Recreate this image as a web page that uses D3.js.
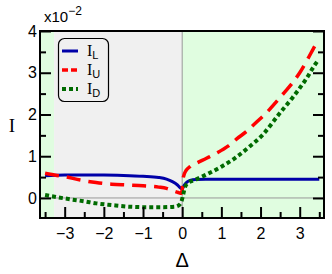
<!DOCTYPE html>
<html>
<head>
<meta charset="utf-8">
<script src="https://cdn.jsdelivr.net/npm/d3@7"></script>
<style>
  body { margin: 0; background: #fff; }
  text { font-family: "Liberation Sans", Arial, sans-serif; }
</style>
</head>
<body>
<script>
// curves, values in units of 1e-2
const deltaL = [-3.5, -3, -2, -1.5, -1, -0.6, -0.4, -0.25, -0.12, -0.03, 0, 0.05, 0.12, 0.2, 0.35, 0.6, 3.5];
const valL   = [0.53, 0.55, 0.55, 0.54, 0.52, 0.49, 0.45, 0.39, 0.31, 0.23, 0.22, 0.3, 0.38, 0.42, 0.445, 0.45, 0.45];

const deltaU = [-3.5, -3.2, -3, -2.6, -2.2, -1.8, -1.4, -1, -0.6, -0.4, -0.2, -0.1, -0.02, 0, 0.03, 0.1, 0.2, 0.36, 0.62, 0.87, 1.17, 1.4, 1.65, 1.9, 2.16, 2.4, 2.6, 2.8, 3.0, 3.2, 3.35, 3.48];
const valU   = [0.59, 0.54, 0.51, 0.43, 0.37, 0.33, 0.31, 0.29, 0.26, 0.23, 0.16, 0.13, 0.11, 0.2, 0.5, 0.66, 0.75, 0.83, 0.95, 1.07, 1.24, 1.42, 1.6, 1.82, 2.05, 2.3, 2.52, 2.74, 3.0, 3.32, 3.58, 3.78];

const deltaD = [-3.5, -3.2, -2.87, -2.5, -2.19, -1.8, -1.34, -1, -0.49, -0.2, -0.08, -0.02, 0.03, 0.07, 0.15, 0.32, 0.66, 1.0, 1.34, 1.68, 2.06, 2.49, 2.83, 3.17, 3.38, 3.47];
const valD   = [0.07, 0.02, -0.03, -0.08, -0.13, -0.17, -0.21, -0.22, -0.22, -0.21, -0.17, -0.09, 0.1, 0.25, 0.36, 0.43, 0.58, 0.75, 0.95, 1.2, 1.52, 2.03, 2.42, 2.86, 3.18, 3.3];

const xTicks = [-3, -2, -1, 0, 1, 2, 3];
const yTicks = [0, 1, 2, 3, 4];
const seriesNames = ["L", "U", "D"];

const width = 332, height = 274;
const margin = {top: 31, right: 8, bottom: 56, left: 40};

const svg = d3.select("body").append("svg")
    .attr("width", width)
    .attr("height", height);

const x = d3.scaleLinear()
    .domain([-3.63, 3.62])
    .range([margin.left, width - margin.right]);

const y = d3.scaleLinear()
    .domain([-0.48, 4])
    .range([height - margin.bottom, margin.top]);

const x0 = x.range()[0], x1 = x.range()[1];
const y0 = y.range()[0], y1 = y.range()[1];

// shaded regions
svg.append("rect").attr("x", x0).attr("y", y1)
    .attr("width", x(-3.27) - x0).attr("height", y0 - y1).attr("fill", "#e0fde0");
svg.append("rect").attr("x", x(-3.27)).attr("y", y1)
    .attr("width", x(0) - x(-3.27)).attr("height", y0 - y1).attr("fill", "#f0f0f0");
svg.append("rect").attr("x", x(0)).attr("y", y1)
    .attr("width", x1 - x(0)).attr("height", y0 - y1).attr("fill", "#e0fde0");

// zero lines
svg.append("line").attr("x1", x(0)).attr("x2", x(0)).attr("y1", y1).attr("y2", y0)
    .attr("stroke", "#999").attr("stroke-width", 1);
svg.append("line").attr("x1", x0).attr("x2", x1).attr("y1", y(0)).attr("y2", y(0))
    .attr("stroke", "#999").attr("stroke-width", 1);

// curves
const line = d3.line()
    .x(d => x(d[0]))
    .y(d => y(d[1]))
    .curve(d3.curveMonotoneX);

const styles = [
  {color: "#0000a8", width: 3, dash: null},
  {color: "#ff0000", width: 3.5, dash: "14,8"},
  {color: "#006b00", width: 4, dash: "4,3"}
];
const series = [d3.zip(deltaL, valL), d3.zip(deltaU, valU), d3.zip(deltaD, valD)];

series.forEach((s, i) => {
  svg.append("path")
      .datum(s)
      .attr("d", line)
      .attr("fill", "none")
      .attr("stroke", styles[i].color)
      .attr("stroke-width", styles[i].width)
      .attr("stroke-dasharray", styles[i].dash);
});

// axes (ticks inward)
const xMinor = d3.range(-3.5, 3.51, 0.5).filter(v => !xTicks.includes(v));
const yMinor = d3.range(-0.5, 4, 0.5).filter(v => !yTicks.includes(v) && v > -0.48);

svg.append("g")
    .attr("transform", `translate(0,${y0})`)
    .call(d3.axisBottom(x).tickValues(xTicks).tickSize(-11).tickFormat(d => d < 0 ? "\u2212" + (-d) : d).tickPadding(10))
    .call(g => g.select(".domain").remove());
svg.append("g")
    .attr("transform", `translate(0,${y0})`)
    .call(d3.axisBottom(x).tickValues(xMinor).tickSize(-6).tickFormat(""))
    .call(g => g.select(".domain").remove());

svg.append("g")
    .attr("transform", `translate(${x0},0)`)
    .call(d3.axisLeft(y).tickValues(yTicks).tickSize(-11).tickFormat(d3.format("d")).tickPadding(3))
    .call(g => g.select(".domain").remove());
svg.append("g")
    .attr("transform", `translate(${x0},0)`)
    .call(d3.axisLeft(y).tickValues(yMinor).tickSize(-6).tickFormat(""))
    .call(g => g.select(".domain").remove());

svg.append("g")
    .attr("transform", `translate(${x1},0)`)
    .call(d3.axisRight(y).tickValues(yTicks).tickSize(-11).tickFormat(""))
    .call(g => g.select(".domain").remove());
svg.append("g")
    .attr("transform", `translate(${x1},0)`)
    .call(d3.axisRight(y).tickValues(yMinor).tickSize(-6).tickFormat(""))
    .call(g => g.select(".domain").remove());

svg.selectAll(".tick line").attr("stroke", "#000").attr("stroke-width", 2);
svg.selectAll(".tick text").attr("font-size", 16).attr("fill", "#000")
    .style("font-family", "'Liberation Sans', Arial, sans-serif");

// frame
svg.append("rect")
    .attr("x", x0).attr("y", y1)
    .attr("width", x1 - x0).attr("height", y0 - y1)
    .attr("fill", "none").attr("stroke", "#000").attr("stroke-width", 2);

// axis labels
svg.append("text")
    .attr("x", x(0)).attr("y", 267)
    .attr("text-anchor", "middle")
    .attr("font-size", 20)
    .text("\u0394");

svg.append("text")
    .attr("x", 12).attr("y", 132)
    .attr("text-anchor", "middle")
    .attr("font-size", 19)
    .style("font-family", "'Liberation Serif', 'Times New Roman', serif")
    .text("I");

const mult = svg.append("text").attr("x", 44).attr("y", 22).attr("font-size", 15);
mult.append("tspan").text("x10");
mult.append("tspan").attr("dy", -7).attr("font-size", 12).text("\u22122");

// legend
const legend = svg.append("g");
legend.append("rect")
    .attr("x", 58.5).attr("y", 38.5).attr("width", 50).attr("height", 63).attr("rx", 6)
    .attr("fill", "#f0f0f0").attr("stroke", "#000").attr("stroke-width", 1.2);

seriesNames.forEach((name, i) => {
  const ly = 51 + i * 19;
  legend.append("line")
      .attr("x1", 62).attr("x2", 78).attr("y1", ly).attr("y2", ly)
      .attr("stroke", styles[i].color)
      .attr("stroke-width", styles[i].width)
      .attr("stroke-dasharray", i === 1 ? "6,3" : styles[i].dash);
  const t = legend.append("text").attr("x", 87).attr("y", ly + 5).attr("font-size", 16);
  t.append("tspan").style("font-family", "'Liberation Serif', 'Times New Roman', serif").text("I");
  t.append("tspan").attr("dy", 3).attr("font-size", 11).text(name);
});
</script>
</body>
</html>
